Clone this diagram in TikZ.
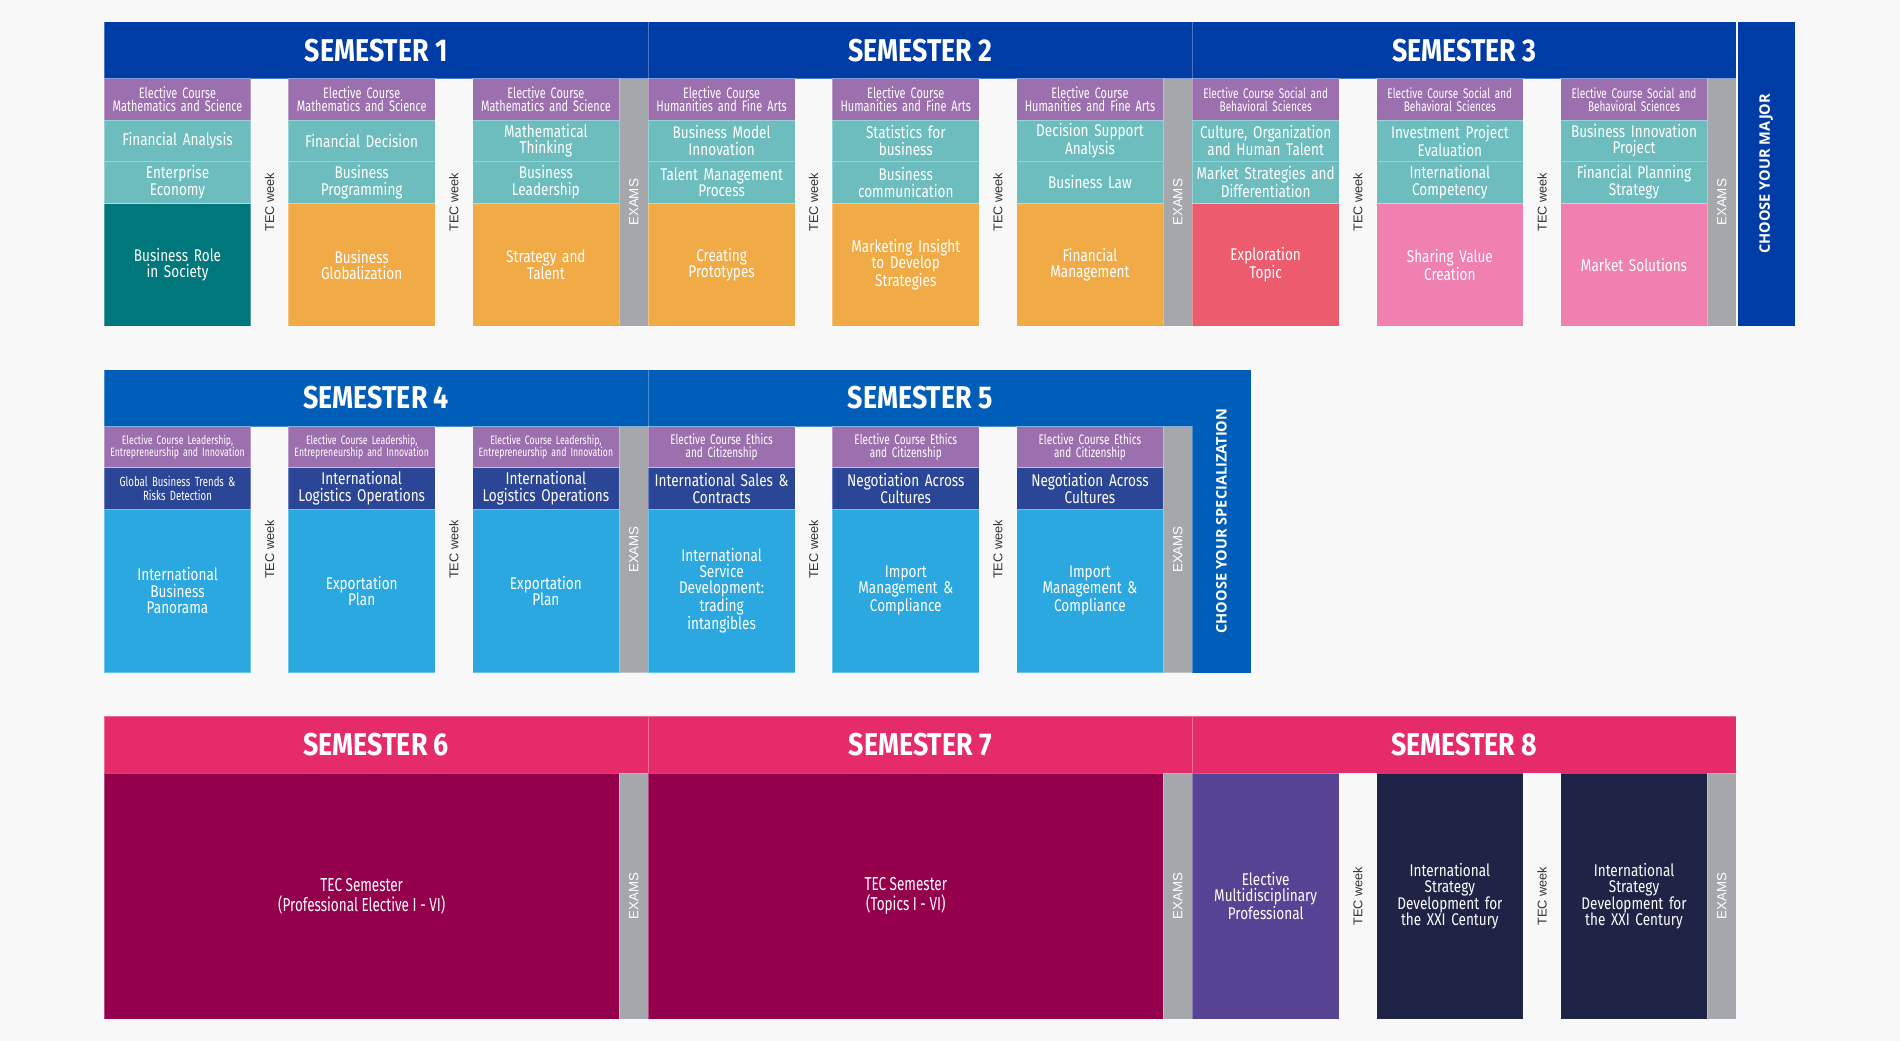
\documentclass[tikz,border=0pt]{standalone}
\usepackage{fontspec}
\newfontfamily\cond{Fira Sans}[FakeStretch=0.8]
\newfontfamily\condx{Fira Sans}[FakeStretch=0.72]
\newfontfamily\hdrf{Fira Sans}[FakeStretch=0.85]
\newfontfamily\arf{Liberation Sans}
\newfontfamily\wdf{Open Sans}
\definecolor{cBg}{HTML}{F8F8F8}
\definecolor{cHA}{HTML}{003CA6}
\definecolor{cHB}{HTML}{005EB8}
\definecolor{cHC}{HTML}{E52B6A}
\definecolor{cPur}{HTML}{9C6FAE}
\definecolor{cTeal}{HTML}{6DBDBF}
\definecolor{cDTeal}{HTML}{00777A}
\definecolor{cOr}{HTML}{F0AA46}
\definecolor{cRed}{HTML}{EC5B6E}
\definecolor{cPink}{HTML}{F080AF}
\definecolor{cGray}{HTML}{A6A7AA}
\definecolor{cNB}{HTML}{2B4697}
\definecolor{cLB}{HTML}{2CA8E1}
\definecolor{cMar}{HTML}{94004C}
\definecolor{cVio}{HTML}{564394}
\definecolor{cNavy}{HTML}{1F2447}
\definecolor{cTec}{HTML}{333333}
\newcommand\cf{\cond\fontsize{14}{13.5}\selectfont}
\begin{document}
\begin{tikzpicture}[x=1pt,y=-1pt,
  cell/.style={fill=#1, draw=white, draw opacity=0.3, line width=0.6pt, inner sep=0pt,
    text=white, align=center, minimum width=121pt, text width=119pt, font=\cf},
  elA/.style={cell=cPur, minimum height=34pt, font=\condx\fontsize{12.5}{11}\selectfont},
  elC/.style={cell=cPur, minimum height=34pt, font=\condx\fontsize{11.5}{11}\selectfont},
  elB/.style={cell=cPur, minimum height=34pt, font=\condx\fontsize{10}{10}\selectfont},
  hdr/.style={fill=#1, draw=white, draw opacity=0.3, line width=0.6pt, inner sep=0pt,
    minimum width=449pt, minimum height=47pt, text=white,
    font=\hdrf\bfseries\fontsize{26}{26}\selectfont},
  tec/.style={rotate=90, text=cTec, inner sep=0pt, font=\arf\fontsize{10.5}{10.5}\selectfont},
  exam/.style={rotate=90, fill=cGray, draw=white, draw opacity=0.3, line width=0.6pt,
    inner sep=0pt, text=white, minimum height=24pt, minimum width=#1,
    font=\arf\fontsize{11}{11}\selectfont},
  choose/.style={rotate=90, fill=#1, inner sep=0pt, text=white, minimum height=47pt,
    font=\wdf\bfseries\fontsize{12}{12}\selectfont},
  big/.style={fill=#1, draw=white, draw opacity=0.3, line width=0.6pt, inner sep=0pt,
    text=white, align=center, minimum height=203pt, font=\condx\fontsize{15.5}{16}\selectfont}
]
\fill[cBg] (0,0) rectangle (1568,859);
\useasboundingbox (0,0) rectangle (1568,859);

% ================= ROW 1 =================
\node[hdr=cHA] (h1) at (310.5,41.5) {SEMESTER 1};
\node[hdr=cHA] (h2) at (759.5,41.5) {SEMESTER 2};
\node[hdr=cHA] (h3) at (1208.5,41.5) {SEMESTER 3};
\node[choose=cHA, minimum width=251pt] (major) at (1457.5,143.5) {CHOOSE YOUR MAJOR};

% Semester 1
\node[elA] (a1e) at (146.5,82) {Elective Course\\Mathematics and Science};
\node[cell=cTeal, minimum height=34pt] (a1t) at (146.5,116) {Financial Analysis};
\node[cell=cTeal, minimum height=35pt] (a1u) at (146.5,150.5) {Enterprise\\Economy};
\node[cell=cDTeal, minimum height=101pt] (a1b) at (146.5,218.5) {Business Role\\in Society};
\node[tec] (a1w) at (222.5,167) {TEC week};
\node[elA] (a2e) at (298.5,82) {Elective Course\\Mathematics and Science};
\node[cell=cTeal, minimum height=34pt] (a2t) at (298.5,116) {Financial Decision};
\node[cell=cTeal, minimum height=35pt] (a2u) at (298.5,150.5) {Business\\Programming};
\node[cell=cOr, minimum height=101pt] (a2b) at (298.5,218.5) {Business\\Globalization};
\node[tec] (a2w) at (374.5,167) {TEC week};
\node[elA] (a3e) at (450.5,82) {Elective Course\\Mathematics and Science};
\node[cell=cTeal, minimum height=34pt] (a3t) at (450.5,116) {Mathematical\\Thinking};
\node[cell=cTeal, minimum height=35pt] (a3u) at (450.5,150.5) {Business\\Leadership};
\node[cell=cOr, minimum height=101pt] (a3b) at (450.5,218.5) {Strategy and\\Talent};
\node[exam=204pt] (a3x) at (523,167) {EXAMS};

% Semester 2
\node[elA] (b1e) at (595.5,82) {Elective Course\\Humanities and Fine Arts};
\node[cell=cTeal, minimum height=34pt] (b1t) at (595.5,116) {Business Model\\Innovation};
\node[cell=cTeal, minimum height=35pt] (b1u) at (595.5,150.5) {Talent Management\\Process};
\node[cell=cOr, minimum height=101pt] (b1b) at (595.5,218.5) {Creating\\Prototypes};
\node[tec] (b1w) at (671.5,167) {TEC week};
\node[elA] (b2e) at (747.5,82) {Elective Course\\Humanities and Fine Arts};
\node[cell=cTeal, minimum height=34pt] (b2t) at (747.5,116) {Statistics for\\business};
\node[cell=cTeal, minimum height=35pt] (b2u) at (747.5,150.5) {Business\\communication};
\node[cell=cOr, minimum height=101pt] (b2b) at (747.5,218.5) {Marketing Insight\\to Develop\\Strategies};
\node[tec] (b2w) at (823.5,167) {TEC week};
\node[elA] (b3e) at (899.5,82) {Elective Course\\Humanities and Fine Arts};
\node[cell=cTeal, minimum height=34pt] (b3t) at (899.5,116) {Decision Support\\Analysis};
\node[cell=cTeal, minimum height=35pt] (b3u) at (899.5,150.5) {Business Law};
\node[cell=cOr, minimum height=101pt] (b3b) at (899.5,218.5) {Financial\\Management};
\node[exam=204pt] (b3x) at (972,167) {EXAMS};

% Semester 3
\node[elC] (c1e) at (1044.5,82) {Elective Course Social and\\Behavioral Sciences};
\node[cell=cTeal, minimum height=34pt] (c1t) at (1044.5,116) {Culture, Organization\\and Human Talent};
\node[cell=cTeal, minimum height=35pt] (c1u) at (1044.5,150.5) {Market Strategies and\\Differentiation};
\node[cell=cRed, minimum height=101pt] (c1b) at (1044.5,218.5) {Exploration\\Topic};
\node[tec] (c1w) at (1120.5,167) {TEC week};
\node[elC] (c2e) at (1196.5,82) {Elective Course Social and\\Behavioral Sciences};
\node[cell=cTeal, minimum height=34pt] (c2t) at (1196.5,116) {Investment Project\\Evaluation};
\node[cell=cTeal, minimum height=35pt] (c2u) at (1196.5,150.5) {International\\Competency};
\node[cell=cPink, minimum height=101pt] (c2b) at (1196.5,218.5) {Sharing Value\\Creation};
\node[tec] (c2w) at (1272.5,167) {TEC week};
\node[elC] (c3e) at (1348.5,82) {Elective Course Social and\\Behavioral Sciences};
\node[cell=cTeal, minimum height=34pt] (c3t) at (1348.5,116) {Business Innovation\\Project};
\node[cell=cTeal, minimum height=35pt] (c3u) at (1348.5,150.5) {Financial Planning\\Strategy};
\node[cell=cPink, minimum height=101pt] (c3b) at (1348.5,218.5) {Market Solutions};
\node[exam=204pt] (c3x) at (1421,167) {EXAMS};

% ================= ROW 2 =================
\node[hdr=cHB] (h4) at (310.5,328.5) {SEMESTER 4};
\node[hdr=cHB] (h5) at (759.5,328.5) {SEMESTER 5};
\node[choose=cHB, minimum width=250pt, minimum height=48pt] (spec) at (1008,430) {CHOOSE YOUR SPECIALIZATION};

% Semester 4
\node[elB] (d1e) at (146.5,369) {Elective Course Leadership,\\Entrepreneurship and Innovation};
\node[cell=cNB, minimum height=34pt, font=\condx\fontsize{11}{11}\selectfont] (d1t) at (146.5,403) {Global Business Trends \&\\Risks Detection};
\node[cell=cLB, minimum height=135pt] (d1b) at (146.5,487.5) {International\\Business\\Panorama};
\node[tec] (d1w) at (222.5,453.5) {TEC week};
\node[elB] (d2e) at (298.5,369) {Elective Course Leadership,\\Entrepreneurship and Innovation};
\node[cell=cNB, minimum height=34pt] (d2t) at (298.5,403) {International\\Logistics Operations};
\node[cell=cLB, minimum height=135pt] (d2b) at (298.5,487.5) {Exportation\\Plan};
\node[tec] (d2w) at (374.5,453.5) {TEC week};
\node[elB] (d3e) at (450.5,369) {Elective Course Leadership,\\Entrepreneurship and Innovation};
\node[cell=cNB, minimum height=34pt] (d3t) at (450.5,403) {International\\Logistics Operations};
\node[cell=cLB, minimum height=135pt] (d3b) at (450.5,487.5) {Exportation\\Plan};
\node[exam=203pt] (d3x) at (523,453.5) {EXAMS};

% Semester 5
\node[elC] (e1e) at (595.5,369) {Elective Course Ethics\\and Citizenship};
\node[cell=cNB, minimum height=34pt] (e1t) at (595.5,403) {International Sales \&\\Contracts};
\node[cell=cLB, minimum height=135pt] (e1b) at (595.5,487.5) {International\\Service\\Development:\\trading\\intangibles};
\node[tec] (e1w) at (671.5,453.5) {TEC week};
\node[elC] (e2e) at (747.5,369) {Elective Course Ethics\\and Citizenship};
\node[cell=cNB, minimum height=34pt] (e2t) at (747.5,403) {Negotiation Across\\Cultures};
\node[cell=cLB, minimum height=135pt] (e2b) at (747.5,487.5) {Import\\Management \&\\Compliance};
\node[tec] (e2w) at (823.5,453.5) {TEC week};
\node[elC] (e3e) at (899.5,369) {Elective Course Ethics\\and Citizenship};
\node[cell=cNB, minimum height=34pt] (e3t) at (899.5,403) {Negotiation Across\\Cultures};
\node[cell=cLB, minimum height=135pt] (e3b) at (899.5,487.5) {Import\\Management \&\\Compliance};
\node[exam=203pt] (e3x) at (972,453.5) {EXAMS};

% ================= ROW 3 =================
\node[hdr=cHC] (h6) at (310.5,614.5) {SEMESTER 6};
\node[hdr=cHC] (h7) at (759.5,614.5) {SEMESTER 7};
\node[hdr=cHC] (h8) at (1208.5,614.5) {SEMESTER 8};

\node[big=cMar, minimum width=425pt] (f1) at (298.5,739.5) {TEC Semester\\(Professional Elective I - VI)};
\node[exam=203pt] (f1x) at (523,739.5) {EXAMS};
\node[big=cMar, minimum width=425pt] (g1) at (747.5,739.5) {TEC Semester\\(Topics I - VI)};
\node[exam=203pt] (g1x) at (972,739.5) {EXAMS};

\node[cell=cVio, minimum height=203pt] (k1) at (1044.5,739.5) {Elective\\Multidisciplinary\\Professional};
\node[tec] (k1w) at (1120.5,739.5) {TEC week};
\node[cell=cNavy, minimum height=203pt] (k2) at (1196.5,739.5) {International\\Strategy\\Development for\\the XXI Century};
\node[tec] (k2w) at (1272.5,739.5) {TEC week};
\node[cell=cNavy, minimum height=203pt] (k3) at (1348.5,739.5) {International\\Strategy\\Development for\\the XXI Century};
\node[exam=203pt] (k3x) at (1421,739.5) {EXAMS};
\end{tikzpicture}
\end{document}
